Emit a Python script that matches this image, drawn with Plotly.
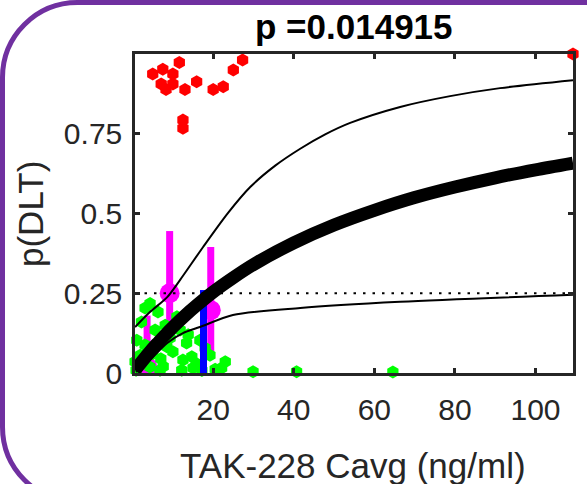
import plotly.graph_objects as go

# Patients with a DLT (plotted near p = 1, jittered)
dlt_x = [11.6, 7.5, 5.0, 10.0, 7.1, 10.0, 8.3, 13.0, 15.9, 20.0, 22.5, 25.0, 27.3, 12.5, 12.5, 109.3]
dlt_p = [0.973, 0.952, 0.937, 0.937, 0.906, 0.906, 0.889, 0.889, 0.913, 0.889, 0.897, 0.950, 0.981, 0.793, 0.767, 1.0]

# Patients without a DLT (plotted near p = 0, jittered)
nodlt_x = [4.34, 3.1, 6.3, 1.04, 0.62, 0.87, 11.8, 13.4, 10.0, 12.5, 7.6, 12.2, 15.0, 19.2, 23.0,
           22.1, 6.8, 4.3, 8.5, 11.0, 14.7, 29.9, 40.7, 64.6, 5.6, 8.1, 3.1, 16.7, 18.0, 9.3, 1.9,
           2.2, 5.0, 7.0, 13.8, 15.8, 20.5, 17.2]
nodlt_p = [0.218, 0.204, 0.191, 0.103, 0.035, 0.009, 0.135, 0.094, 0.067, 0.041, 0.020, 0.009, 0.016, 0.056, 0.035,
           0.016, 0.009, 0.019, 0.082, 0.176, 0.051, 0.004, 0.004, 0.003, 0.135, 0.150, 0.088, 0.103, 0.078, 0.110, 0.056,
           0.160, 0.060, 0.045, 0.120, 0.030, 0.012, 0.008]

# Binned observed DLT rate with confidence interval
bin_x = [3.6, 9.2, 19.4]
bin_p = [0.02, 0.25, 0.197]
bin_lo = [0.0, 0.113, 0.056]
bin_hi = [0.18, 0.445, 0.395]

# Exposure at the target DLT rate
target_x = 17.6
target_top = 0.26
target_rate = 0.25

# Fitted exposure-response curve and its confidence band
fit_x = [0.6, 2, 4, 6, 8, 10, 13, 16, 20, 25, 30, 40, 50, 60, 70, 80, 90, 100, 109.3]
fit_p = [0.009, 0.031, 0.062, 0.091, 0.118, 0.144, 0.180, 0.213, 0.254, 0.299, 0.340, 0.408,
         0.464, 0.510, 0.550, 0.583, 0.612, 0.637, 0.658]
upper_x = [0.62, 4.3, 8.6, 11.8, 17.5, 23.7, 29.2, 35.4, 41.6, 47.8, 54.0, 66.4, 78.8, 91.2, 109.3]
upper_p = [0.144, 0.191, 0.238, 0.292, 0.395, 0.502, 0.583, 0.650, 0.703, 0.748, 0.784, 0.834,
           0.868, 0.893, 0.918]
lower_x = [0.87, 4.3, 8.6, 12.5, 16.7, 24.9, 41.6, 66.4, 109.3]
lower_p = [0.003, 0.041, 0.094, 0.125, 0.144, 0.182, 0.204, 0.223, 0.245]

x_ticks = [20, 40, 60, 80, 100]
y_ticks = [0, 0.25, 0.5, 0.75]
y_tick_text = ["0", "0.25", "0.5", "0.75"]

title_text = "p =0.014915"
x_title = "TAK-228 Cavg (ng/ml)"
y_title = "p(DLT)"

FONT = "Liberation Sans, Arial, sans-serif"
AX = "#262626"

fig = go.Figure()

fig.add_trace(go.Scatter(
    x=bin_x, y=bin_p, mode="markers",
    marker=dict(color="#ff00ff", size=20, symbol="circle"),
    error_y=dict(type="data", symmetric=False,
                 array=[h - p for h, p in zip(bin_hi, bin_p)],
                 arrayminus=[p - l for p, l in zip(bin_p, bin_lo)],
                 color="#ff00ff", thickness=7, width=0),
    showlegend=False, hoverinfo="skip"))

fig.add_trace(go.Scatter(
    x=nodlt_x, y=nodlt_p, mode="markers",
    marker=dict(color="#00ff00", size=13, symbol="hexagon"),
    showlegend=False, cliponaxis=False))

fig.add_trace(go.Scatter(
    x=dlt_x, y=dlt_p, mode="markers",
    marker=dict(color="#ff0000", size=13, symbol="hexagon"),
    showlegend=False, cliponaxis=False))

fig.add_trace(go.Scatter(
    x=[target_x, target_x], y=[0, target_top], mode="lines",
    line=dict(color="#0000ff", width=7), showlegend=False))

fig.add_trace(go.Scatter(
    x=[fit_x[0], fit_x[-1]], y=[target_rate, target_rate], mode="lines",
    line=dict(color="black", width=2.2, dash="2.5px,7px"), showlegend=False))

fig.add_trace(go.Scatter(
    x=upper_x, y=upper_p, mode="lines",
    line=dict(color="black", width=2, shape="spline", smoothing=0.8), showlegend=False))
fig.add_trace(go.Scatter(
    x=lower_x, y=lower_p, mode="lines",
    line=dict(color="black", width=2, shape="spline", smoothing=0.8), showlegend=False))
fig.add_trace(go.Scatter(
    x=fit_x, y=fit_p, mode="lines",
    line=dict(color="black", width=13, shape="spline", smoothing=0.8), showlegend=False))

L, T, W, H = 135, 54, 438, 319


def px(v):
    return (v - L) / W


def py(v):
    return (T + H - v) / H


# Rounded panel frame
l, t, r, b, rad = 2.5, 2.5, 640, 502, 75
k = 0.5523 * rad
frame = (f"M {px(l + rad)},{py(t)} L {px(r)},{py(t)} L {px(r)},{py(b)} L {px(l + rad)},{py(b)} "
         f"C {px(l + rad - k)},{py(b)} {px(l)},{py(b - rad + k)} {px(l)},{py(b - rad)} "
         f"L {px(l)},{py(t + rad)} "
         f"C {px(l)},{py(t + rad - k)} {px(l + rad - k)},{py(t)} {px(l + rad)},{py(t)} Z")

axis_common = dict(showline=True, linecolor=AX, linewidth=2.5, mirror="ticks",
                   ticks="inside", ticklen=5, tickwidth=2.5, tickcolor=AX,
                   showgrid=False, zeroline=False,
                   tickfont=dict(family=FONT, size=30, color=AX))

fig.update_layout(
    width=587, height=484,
    margin=dict(l=L, r=587 - L - W, t=T, b=484 - T - H),
    paper_bgcolor="white", plot_bgcolor="white",
    xaxis=dict(range=[0.6, 109.3], tickvals=x_ticks, ticklabelstandoff=8, **axis_common),
    yaxis=dict(range=[0, 1.0], tickvals=y_ticks, ticktext=y_tick_text, ticklabelstandoff=4,
               **axis_common),
    shapes=[dict(type="path", xref="paper", yref="paper", path=frame,
                 line=dict(color="#7030a0", width=5), layer="above")],
    annotations=[
        dict(text=f"<b>{title_text}</b>", xref="paper", yref="paper", x=px(354), y=py(27),
             showarrow=False, font=dict(family=FONT, size=35, color="black"),
             xanchor="center", yanchor="middle"),
        dict(text=x_title, xref="paper", yref="paper", x=px(353), y=py(465),
             showarrow=False, font=dict(family=FONT, size=35, color=AX),
             xanchor="center", yanchor="middle"),
        dict(text=y_title, xref="paper", yref="paper", x=px(31), y=py(214),
             showarrow=False, font=dict(family=FONT, size=35, color=AX), textangle=-90,
             xanchor="center", yanchor="middle"),
    ],
)

fig.write_html("out.html")
